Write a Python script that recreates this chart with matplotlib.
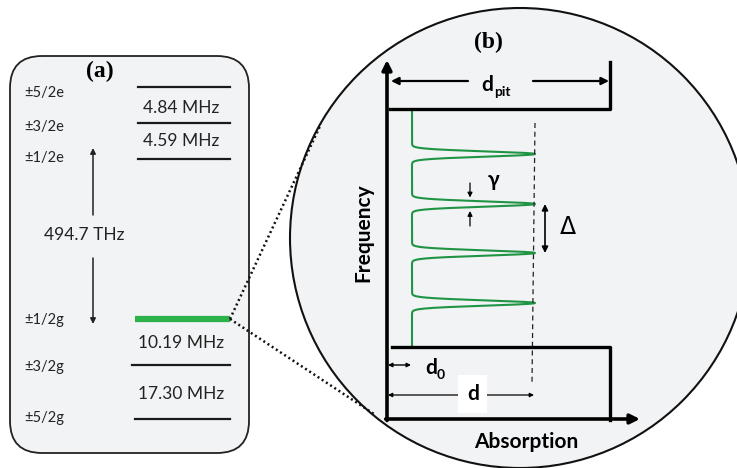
import numpy as np
import matplotlib
matplotlib.use("Agg")
import matplotlib.pyplot as plt
from matplotlib.patches import FancyBboxPatch, Circle, Rectangle

# level diagram data
level_labels = ["±5/2e", "±3/2e", "±1/2e", "±1/2g", "±3/2g", "±5/2g"]
split_labels = ["4.84 MHz", "4.59 MHz", "10.19 MHz", "17.30 MHz"]
optical_label = "494.7 THz"
# spectral holes (frequency positions inside the pit, px units)
peak_centers = [154, 204, 253, 303]
peak_width = 2.6

SANS = ["Lato", "DejaVu Sans"]
SERIF = ["Liberation Serif", "DejaVu Serif"]
GRAY = "#f2f3f5"

fig = plt.figure(figsize=(7.37, 4.68), dpi=100)
ax = fig.add_axes([0, 0, 1, 1])
ax.set_xlim(0, 737)
ax.set_ylim(468, 0)
ax.axis("off")

# ---- panel (a)
box = FancyBboxPatch((10, 56), 239, 397, boxstyle="round,pad=0,rounding_size=32",
                     fc=GRAY, ec="#222222", lw=1.3, zorder=1)
ax.add_patch(box)
ax.text(100, 71, "(a)", family=SERIF, weight="bold", fontsize=17, ha="center", va="center")

level_y = [87, 123, 159, 319, 365, 419]
level_x0 = [138, 138, 138, 135, 132, 135]
label_y = [93, 127, 158, 320, 367, 418]
for i, lab in enumerate(level_labels):
    if lab == "±1/2g":
        ax.plot([level_x0[i], 230], [level_y[i], level_y[i]], color="#2db24a", lw=4.5,
                solid_capstyle="butt", zorder=3)
    else:
        ax.plot([level_x0[i], 230], [level_y[i], level_y[i]], color="#1a1a1a", lw=1.6, zorder=3)
    ax.text(24, label_y[i], lab, family=SANS, fontsize=10.5, ha="left", va="center", color="#222222")

split_y = [108, 141, 343, 394]
for lab, y in zip(split_labels, split_y):
    ax.text(181, y, lab, family=SANS, fontsize=12.5, ha="center", va="center", color="#222222")

ax.text(84, 235, optical_label, family=SANS, fontsize=12.5, ha="center", va="center", color="#222222")
arr = dict(arrowstyle="-|>", lw=1.1, color="#222222", mutation_scale=8, shrinkA=0, shrinkB=0)
ax.annotate("", xy=(93, 148), xytext=(93, 215), arrowprops=arr)
ax.annotate("", xy=(93, 324), xytext=(93, 258), arrowprops=arr)

# ---- panel (b)
circ = Circle((520, 238), 230, fc=GRAY, ec="#111111", lw=1.5, zorder=1)
ax.add_patch(circ)

# dotted zoom lines
ax.plot([230, 321], [319, 124], color="#111111", lw=1.8, ls=(0, (0.8, 1.2)), zorder=5)
ax.plot([230, 374], [319, 414], color="#111111", lw=1.8, ls=(0, (0.8, 1.2)), zorder=5)

ax.text(488, 42, "(b)", family=SERIF, weight="bold", fontsize=17, ha="center", va="center")

big = dict(arrowstyle="-|>", lw=2.6, color="black", mutation_scale=14, shrinkA=0, shrinkB=0)
ax.annotate("", xy=(387, 60), xytext=(387, 420.5), arrowprops=big, zorder=4)
ax.annotate("", xy=(640, 419), xytext=(385.7, 419), arrowprops=big, zorder=4)

# pit walls
ax.plot([390, 610, 610], [109, 109, 62], color="black", lw=2.4, zorder=4)
ax.plot([392, 610, 610], [347, 347, 420], color="black", lw=2.4, zorder=4)

# d_pit
med = dict(arrowstyle="-|>", lw=1.6, color="black", mutation_scale=11, shrinkA=0, shrinkB=0)
ax.annotate("", xy=(391, 81), xytext=(468, 81), arrowprops=med)
ax.annotate("", xy=(609, 81), xytext=(533, 81), arrowprops=med)
ax.text(487, 85, "d", family=SANS, weight="bold", fontsize=15, ha="center", va="center")
ax.text(494, 92, "pit", family=SANS, weight="bold", fontsize=10, ha="left", va="center")

# absorption profile with spectral features
yy = np.linspace(109, 347, 8000)
prof = np.zeros_like(yy)
for c in peak_centers:
    prof += np.exp(-0.5 * ((yy - c) / peak_width) ** 2)
ax.plot(412 + 123 * prof, yy, color="#1f9444", lw=1.5, zorder=3)

ax.plot([535, 532], [123, 383], color="#222222", lw=0.9, ls=(0, (4, 3)), zorder=3)

# gamma
sm = dict(arrowstyle="-|>", lw=0.9, color="black", mutation_scale=7, shrinkA=0, shrinkB=0)
ax.annotate("", xy=(470, 197.5), xytext=(470, 183), arrowprops=sm)
ax.annotate("", xy=(470, 211), xytext=(470, 226), arrowprops=sm)
ax.text(494, 180, "γ", family=SANS, weight="bold", fontsize=15, ha="center", va="center")

# Delta
ax.annotate("", xy=(545, 204), xytext=(545, 253),
            arrowprops=dict(arrowstyle="<|-|>", lw=1.2, color="black", mutation_scale=9,
                            shrinkA=0, shrinkB=0))
ax.text(568, 227, "Δ", family=["DejaVu Sans"], fontsize=17, ha="center", va="center")

# d0 and d
ax.annotate("", xy=(388, 365), xytext=(411, 365),
            arrowprops=dict(arrowstyle="<|-|>", lw=1.0, color="black", mutation_scale=6,
                            shrinkA=0, shrinkB=0))
ax.text(431, 368, "d", family=SANS, weight="bold", fontsize=15, ha="center", va="center")
ax.text(437, 375, "0", family=SANS, weight="bold", fontsize=10, ha="left", va="center")

ax.annotate("", xy=(388, 395), xytext=(534, 395),
            arrowprops=dict(arrowstyle="<|-|>", lw=0.9, color="black", mutation_scale=6,
                            shrinkA=0, shrinkB=0))
ax.add_patch(Rectangle((458, 375), 29, 38, fc="white", ec="none", zorder=4))
ax.text(473, 394, "d", family=SANS, weight="bold", fontsize=15, ha="center", va="center", zorder=5)

ax.text(363, 233, "Frequency", family=SANS, weight="bold", fontsize=15, rotation=90,
        ha="center", va="center")
ax.text(526, 442, "Absorption", family=SANS, weight="bold", fontsize=15, ha="center", va="center")

fig.savefig("out.png", dpi=100)
